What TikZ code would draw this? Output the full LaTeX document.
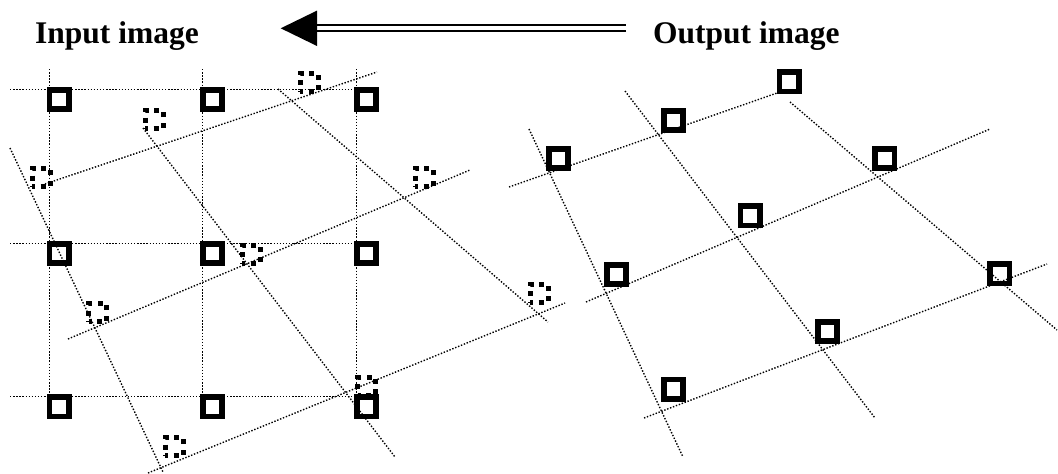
\documentclass[tikz,border=0pt]{standalone}
\usepackage{fontspec}
\setmainfont{Liberation Serif}
\begin{document}
\begin{tikzpicture}[x=1pt,y=-1pt,
  gridline/.style={line width=1.4pt, dash pattern=on 1.4pt off 1.7pt, black},
  sq/.style={draw, line width=5.7pt, minimum size=19.3pt, inner sep=0pt, outer sep=0pt, shape=rectangle},
  dsq/.style={draw, line width=5pt, dash pattern=on 5pt off 5.5pt, dash phase=2pt, minimum size=18pt, inner sep=0pt, outer sep=0pt, shape=rectangle},
  lbl/.style={font=\bfseries\fontsize{31.5}{36}\selectfont, inner sep=0pt, anchor=base west}]
\useasboundingbox (0,0) rectangle (1058,474);

% titles and arrow
\node[lbl] (tin) at (35,43) {Input image};
\node[lbl] (tout) at (653,43) {Output image};
\coordinate (aS) at (626,28.3);
\coordinate (aE) at (317,28.3);
\coordinate (aT) at (280.7,28.3);
\coordinate (aU) at (317,10.6);
\coordinate (aD) at (317,46);
\draw[line width=2pt, double distance=4pt] (aS) -- (aE);
\fill (aT) -- (aU) -- (aD) -- cycle;

% ---------- left: regular grid ----------
\foreach \c/\x in {1/49.3,2/202.7,3/356.7}{
  \foreach \r/\y in {1/89.3,2/243.3,3/396.7}{
    \coordinate (g\r\c) at (\x,\y);
  }
  \coordinate (vt\c) at (\x,69);
}
\foreach \r/\y in {1/89.3,2/243.3,3/396.7}{
  \coordinate (hl\r) at (10,\y);
}
\foreach \i in {1,2,3}{
  \draw[gridline] (hl\i) -- (g\i3);
  \draw[gridline] (vt\i) -- (g3\i);
}
\foreach \r in {1,2,3}{
  \foreach \c in {1,2,3}{
    \node[sq] (L\r\c) at ([shift={(9.9,10.2)}]g\r\c) {};
  }
}

% ---------- left: distorted grid ----------
\coordinate (r1a) at (42,185);   \coordinate (r1b) at (377,72);
\coordinate (r2a) at (68,339);   \coordinate (r2b) at (470,170);
\coordinate (r3a) at (148,473);  \coordinate (r3b) at (565,303);
\coordinate (k1a) at (10,148);   \coordinate (k1b) at (163,472);
\coordinate (k2a) at (143,128);  \coordinate (k2b) at (395,457);
\coordinate (k3a) at (278,89);   \coordinate (k3b) at (548,322);
\foreach \p in {r1,r2,r3,k1,k2,k3}{
  \draw[gridline] (\p a) -- (\p b);
}
\node[dsq] (D11) at (41,177.5) {};
\node[dsq] (D12) at (154,119.5) {};
\node[dsq] (D13) at (309,82) {};
\node[dsq] (D21) at (97.5,312.5) {};
\node[dsq] (D22) at (251,254) {};
\node[dsq] (D23) at (424,177.5) {};
\node[dsq] (D31) at (174,446.5) {};
\node[dsq] (D32) at (366.5,386) {};
\node[dsq] (D33) at (539,293) {};

% ---------- right: output grid ----------
\coordinate (o1a) at (509,187);  \coordinate (o1b) at (777,93);
\coordinate (o2a) at (586,302);  \coordinate (o2b) at (990,129);
\coordinate (o3a) at (644,418);  \coordinate (o3b) at (1047,264);
\coordinate (c1a) at (529,129);  \coordinate (c1b) at (683,457);
\coordinate (c2a) at (625,91);   \coordinate (c2b) at (875,418);
\coordinate (c3a) at (790,102);  \coordinate (c3b) at (1057,330);
\foreach \p in {o1,o2,o3,c1,c2,c3}{
  \draw[gridline] (\p a) -- (\p b);
}
\node[sq] (A) at (558.5,158.5) {};
\node[sq] (B) at (673.5,120.3) {};
\node[sq] (C) at (789.2,81.8) {};
\node[sq] (F) at (616.5,274.5) {};
\node[sq] (D) at (750.2,215.8) {};
\node[sq] (E) at (884.8,158.5) {};
\node[sq] (I) at (673.5,389.2) {};
\node[sq] (G) at (827.5,331.5) {};
\node[sq] (H) at (999.8,273.8) {};
\end{tikzpicture}
\end{document}
